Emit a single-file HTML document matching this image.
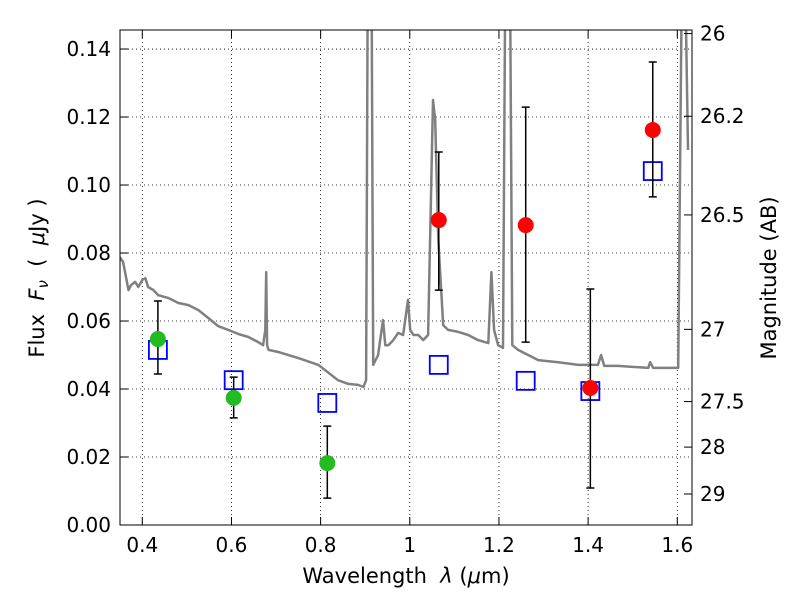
<!DOCTYPE html>
<html><head><meta charset="utf-8"><style>
body{margin:0;background:#fff}
svg{font-family:"DejaVu Sans","Liberation Sans",sans-serif}
.t{white-space:pre}
</style></head><body>
<svg id="c" width="800" height="600" xmlns="http://www.w3.org/2000/svg">
<defs><clipPath id="clip"><rect x="120" y="30" width="572" height="495"/></clipPath></defs>
<rect x="120" y="30" width="572" height="495" fill="#fff"/>
<g id="grid"></g>
<g id="spec" clip-path="url(#clip)"></g>
<g id="marks" clip-path="url(#clip)"></g>
<rect x="120" y="30" width="572" height="495" fill="none" stroke="#000" stroke-width="1"/>
<g id="axes"></g>
<text class="t" x="406" y="583" font-size="21" text-anchor="middle">Wavelength  <tspan font-style="italic">λ</tspan> (<tspan font-style="italic">μ</tspan>m)</text>
<text class="t" transform="translate(44,278) rotate(-90)" font-size="21" text-anchor="middle">Flux  <tspan font-style="italic">F<tspan font-size="15" dy="4">ν</tspan></tspan><tspan dy="-4">  (  </tspan><tspan font-style="italic">μ</tspan>Jy )</text>
<text class="t" transform="translate(776,278) rotate(-90)" font-size="21" text-anchor="middle">Magnitude (AB)</text>
</svg>
<script>
const xTicks=[0.4,0.6,0.8,1.0,1.2,1.4,1.6];
const xTickLabels=["0.4","0.6","0.8","1","1.2","1.4","1.6"];
const yTicks=[0,0.02,0.04,0.06,0.08,0.10,0.12,0.14];
const yTickLabels=["0.00","0.02","0.04","0.06","0.08","0.10","0.12","0.14"];
const magTicks=[26,26.2,26.5,27,27.5,28,29];
const magTickLabels=["26","26.2","26.5","27","27.5","28","29"];
const specW=[0.346,0.357,0.369,0.375,0.384,0.391,0.400,0.407,0.413,0.425,0.436,0.458,0.481,0.503,0.526,0.548,0.559,0.570,0.593,0.615,0.638,0.660,0.671,0.676,0.678,0.680,0.683,0.705,0.750,0.795,0.839,0.862,0.884,0.896,0.902,0.907,0.913,0.918,0.929,0.940,0.945,0.952,0.963,0.974,0.985,0.996,1.001,1.008,1.019,1.030,1.041,1.052,1.057,1.064,1.075,1.086,1.109,1.131,1.153,1.176,1.183,1.189,1.198,1.209,1.216,1.223,1.230,1.243,1.288,1.333,1.378,1.422,1.429,1.436,1.467,1.535,1.539,1.546,1.579,1.602,1.613,1.624];
const specF=[0.0794,0.0774,0.0691,0.0706,0.0715,0.0700,0.0721,0.0726,0.0700,0.0691,0.0676,0.0668,0.0653,0.0647,0.0632,0.0609,0.0597,0.0585,0.0574,0.0562,0.0553,0.0538,0.0529,0.0574,0.0744,0.0529,0.0515,0.0509,0.0491,0.0471,0.0426,0.0415,0.0412,0.0406,0.0426,0.2,0.2,0.0471,0.05,0.0603,0.0529,0.0529,0.0544,0.0565,0.0559,0.0662,0.0574,0.0559,0.0559,0.0544,0.0559,0.125,0.1191,0.0838,0.0588,0.0574,0.0568,0.0559,0.0544,0.0535,0.0744,0.0574,0.0529,0.0521,0.2,0.2,0.0529,0.0515,0.0485,0.0479,0.0471,0.0471,0.05,0.0468,0.0468,0.0462,0.0479,0.0462,0.0462,0.0462,0.2,0.1103];
const greenW=[0.435,0.605,0.815];
const greenF=[0.0547,0.0374,0.0182];
const greenLo=[0.0444,0.0315,0.0079];
const greenHi=[0.0659,0.0435,0.0291];
const redW=[1.065,1.26,1.405,1.545];
const redF=[0.0897,0.0882,0.0403,0.1162];
const redLo=[0.0691,0.0538,0.0109,0.0965];
const redHi=[0.1097,0.1229,0.0694,0.1362];
const modelW=[0.435,0.605,0.815,1.065,1.26,1.405,1.545];
const modelF=[0.0515,0.0426,0.0359,0.0471,0.0424,0.0394,0.1041];

const X0=0.35,X1=1.633,Y0=0,Y1=0.1456;
const sx=v=>120+(v-X0)/(X1-X0)*572;
const sy=v=>525-(v-Y0)/(Y1-Y0)*495;
const magToFlux=m=>3631e6*Math.pow(10,-0.4*m);
const NS="http://www.w3.org/2000/svg";
function mk(parent,tag,attrs){const e=document.createElementNS(NS,tag);for(const k in attrs)e.setAttribute(k,attrs[k]);document.getElementById(parent).appendChild(e);return e;}

xTicks.forEach((t,i)=>{const x=sx(t);
 let g=mk('grid','line',{x1:x,x2:x,y1:30,y2:525,stroke:'#000','stroke-dasharray':'1,3','stroke-width':0.8});
 
 
 let a=mk('axes','line',{x1:x,x2:x,y1:525,y2:517,stroke:'#000'});
 
 
 let b=mk('axes','line',{x1:x,x2:x,y1:30,y2:38,stroke:'#000'});
 
 
 let l=mk('axes','text',{x:x,y:552,'font-size':20,'text-anchor':'middle'});l.textContent=xTickLabels[i];
 
 
});
yTicks.forEach((t,i)=>{const y=sy(t);
 let g=mk('grid','line',{x1:120,x2:692,y1:y,y2:y,stroke:'#000','stroke-dasharray':'1,3','stroke-width':0.8});
 
 
 let a=mk('axes','line',{x1:120,x2:128,y1:y,y2:y,stroke:'#000'});
 
 
 let l=mk('axes','text',{x:111,y:y+7,'font-size':20,'text-anchor':'end'});l.textContent=yTickLabels[i];
 
 
});
magTicks.forEach((m,i)=>{let y=sy(magToFlux(m));if(y<30)y=30;
 let a=mk('axes','line',{x1:684,x2:692,y1:y,y2:y,stroke:'#000'});
 
 
 let l=mk('axes','text',{x:700,y:y+7,'font-size':20,'text-anchor':'start'});l.textContent=magTickLabels[i];
 
 
});
let d=specW.map((w,i)=>(i?'L':'M')+sx(w).toFixed(1)+','+sy(specF[i]).toFixed(1)).join('');
let sp=mk('spec','path',{d:d,fill:'none',stroke:'#808080','stroke-width':2.5,'stroke-linejoin':'round'});


function err(w,lo,hi){const x=sx(w);
 let e=mk('marks','path',{d:`M${x},${sy(lo)}V${sy(hi)}M${x-4},${sy(lo)}h8M${x-4},${sy(hi)}h8`,stroke:'#000','stroke-width':1.5,fill:'none'});
 
 
}
modelW.forEach((w,i)=>{
 let r=mk('marks','rect',{x:sx(w)-9,y:sy(modelF[i])-9,width:18,height:18,fill:'none',stroke:'#0000ff','stroke-width':1.8});
 
 
});
greenW.forEach((w,i)=>{err(w,greenLo[i],greenHi[i]);
 let c=mk('marks','circle',{cx:sx(w),cy:sy(greenF[i]),r:8,fill:'#22bb22'});
 
 
});
redW.forEach((w,i)=>{err(w,redLo[i],redHi[i]);
 let c=mk('marks','circle',{cx:sx(w),cy:sy(redF[i]),r:8,fill:'#ff0000'});
 
 
});
</script>
</body></html>
